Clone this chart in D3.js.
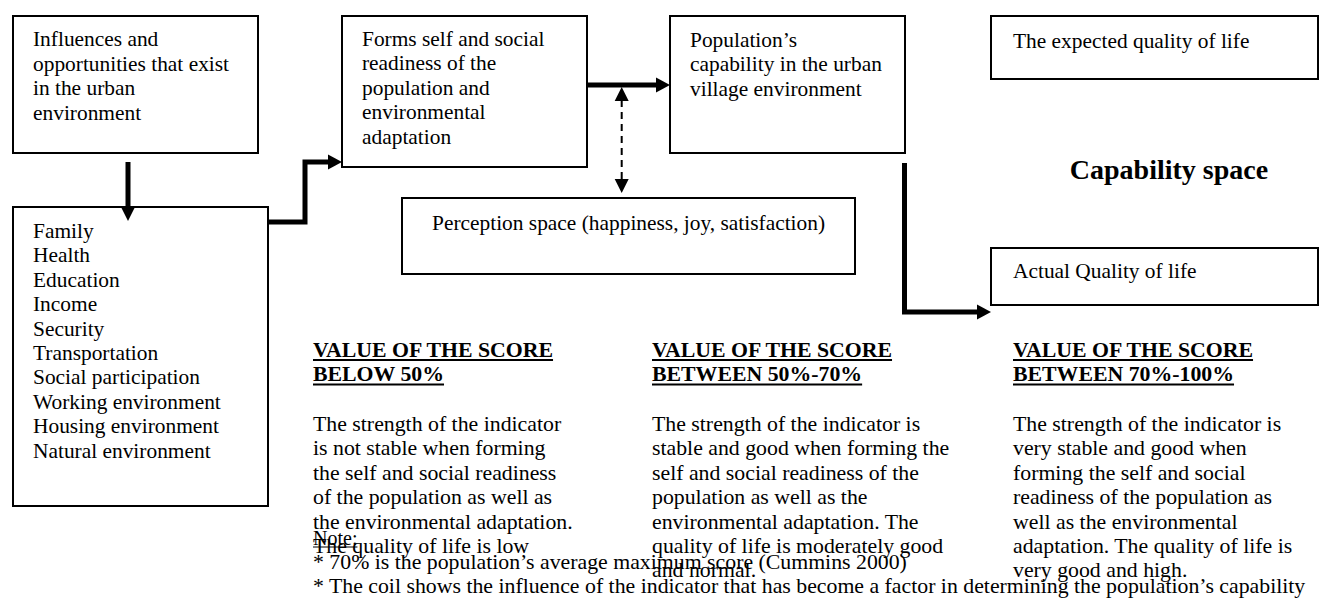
<!DOCTYPE html>
<html lang="en">
<head>
<meta charset="utf-8" />
<script src="https://d3js.org/d3.v7.min.js"></script>
<style>
  body { margin: 0; background: #fff; }
  svg text { font-family: "Liberation Serif", "Times New Roman", serif; fill: #000; }
</style>
<title>Capability space diagram</title>
</head>
<body>
<svg id="diagram" width="1320" height="601"></svg>
<script>
// text content
const influenceLines = ["Influences and", "opportunities that exist", "in the urban", "environment"];
const factors = ["Family", "Health", "Education", "Income", "Security", "Transportation",
  "Social participation", "Working environment", "Housing environment", "Natural environment"];
const readinessLines = ["Forms self and social", "readiness of the", "population and", "environmental", "adaptation"];
const capabilityLines = ["Population\u2019s", "capability in the urban", "village environment"];
const perceptionText = "Perception space (happiness, joy, satisfaction)";
const expectedText = "The expected quality of life";
const actualText = "Actual Quality of life";
const spaceTitle = "Capability space";

const scoreHeads = [
  ["VALUE OF THE SCORE", "BELOW 50%"],
  ["VALUE OF THE SCORE", "BETWEEN 50%-70%"],
  ["VALUE OF THE SCORE", "BETWEEN 70%-100%"]
];
const scoreBodies = [
  ["The strength of the indicator", "is not stable when forming", "the self and social readiness",
   "of the population as well as", "the environmental adaptation.", "The quality of life is low"],
  ["The strength of the indicator is", "stable and good when forming the", "self and social readiness of the",
   "population as well as the", "environmental adaptation. The", "quality of life is moderately good", "and normal."],
  ["The strength of the indicator is", "very stable and good when", "forming the self and social",
   "readiness of the population as", "well as the environmental", "adaptation. The quality of life is", "very good and high."]
];
const noteLabel = "Note:";
const notes = [
  "* 70% is the population\u2019s average maximum score  (Cummins 2000)",
  "* The coil shows the influence of the indicator that has become a factor in determining the population\u2019s capability"
];

const svg = d3.select("#diagram");
const FS = 21.4;   // upper part
const FS2 = 21.8;  // score columns and notes

// white page
svg.append("rect").attr("width", 1320).attr("height", 601).attr("fill", "#fff");

function box(x, y, w, h) {
  svg.append("rect")
    .attr("x", x).attr("y", y).attr("width", w).attr("height", h)
    .attr("fill", "none").attr("stroke", "#000").attr("stroke-width", 2);
}

function lines(arr, x, y0, lh, opts = {}) {
  const g = svg.append("g");
  g.selectAll("text")
    .data(arr)
    .join("text")
    .attr("x", x)
    .attr("y", (d, i) => y0 + i * lh)
    .attr("font-size", (opts.size || FS) + "px")
    .attr("font-weight", opts.bold ? "bold" : "normal")
    .attr("text-anchor", opts.anchor || "start")
    .text(d => d);
  if (opts.underline) {
    g.selectAll("text").each(function (d, i) {
      const w = this.getComputedTextLength();
      const off = opts.ulOffset || 3;
      g.append("line")
        .attr("x1", x).attr("x2", x + w)
        .attr("y1", y0 + i * lh + off).attr("y2", y0 + i * lh + off)
        .attr("stroke", "#000").attr("stroke-width", opts.ulWidth || 2);
    });
  }
  return g;
}

const path = d3.line();

function head(tipX, tipY, dir, len, half) {
  let pts;
  if (dir === "right") pts = [[tipX, tipY], [tipX - len, tipY - half], [tipX - len, tipY + half]];
  if (dir === "down") pts = [[tipX, tipY], [tipX - half, tipY - len], [tipX + half, tipY - len]];
  if (dir === "up") pts = [[tipX, tipY], [tipX - half, tipY + len], [tipX + half, tipY + len]];
  svg.append("path").attr("d", path(pts) + "Z").attr("fill", "#000");
}

function thick(pts) {
  svg.append("path")
    .attr("d", path(pts))
    .attr("fill", "none")
    .attr("stroke", "#000")
    .attr("stroke-width", 5)
    .attr("stroke-linejoin", "miter");
}

// boxes
box(13, 16, 245, 137);
box(13, 207, 255, 299);
box(342, 16, 245, 151);
box(670, 16, 235, 137);
box(991, 16, 327, 63);
box(991, 248, 327, 57);
box(402, 198, 453, 76);

// box texts
lines(influenceLines, 33, 46, 24.5);
lines(factors, 33, 238, 24.4);
lines(readinessLines, 362, 45.5, 24.5);
lines(capabilityLines, 690, 46.5, 24.5);
lines([perceptionText], 432, 230, 0);
lines([expectedText], 1013, 48, 0);
lines([actualText], 1013, 278, 0);
lines([spaceTitle], 1169, 179, 0, { size: 28, bold: true, anchor: "middle" });

// thick arrows
thick([[128, 162], [128, 209]]);
head(128, 221, "down", 14, 7);

thick([[268, 222], [305, 222], [305, 162], [330, 162]]);
head(342, 162, "right", 14, 7.5);

thick([[587, 85], [658, 85]]);
head(670, 85, "right", 14, 7.5);

thick([[904.5, 163], [904.5, 312], [978, 312]]);
head(991, 312, "right", 14, 7.5);

// dashed double arrow
svg.append("line")
  .attr("x1", 621.7).attr("x2", 621.7)
  .attr("y1", 100).attr("y2", 180)
  .attr("stroke", "#000").attr("stroke-width", 2)
  .attr("stroke-dasharray", "7,5");
head(621.7, 87, "up", 14, 7);
head(621.7, 193, "down", 14, 7);

// score columns
const colX = [313, 652, 1013];
colX.forEach((x, i) => {
  lines(scoreHeads[i], x, 357, 24.4, { size: FS2, bold: true, underline: true });
  lines(scoreBodies[i], x, 431, 24.4, { size: FS2 });
});

// notes (overlapping as in the source)
lines([noteLabel], 313, 545, 0, { size: 20, underline: true, ulOffset: 2, ulWidth: 1.2 });
lines(notes, 313, 569, 23.5, { size: FS2 });
</script>
</body>
</html>
